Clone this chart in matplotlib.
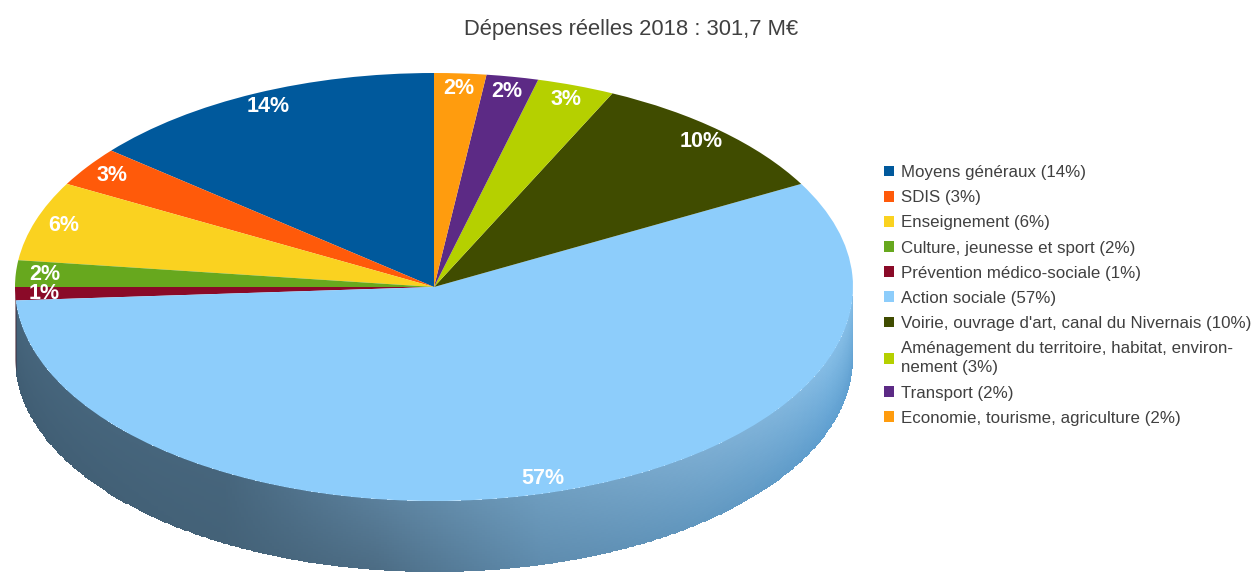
import numpy as np
import matplotlib
matplotlib.use("Agg")
import matplotlib.pyplot as plt
from matplotlib.colors import to_rgb

plt.rcParams['font.family'] = ['Liberation Sans', 'DejaVu Sans']

#budget shares, counter-clockwise from the top
categories = [
    "Moyens généraux (14%)",
    "SDIS (3%)",
    "Enseignement (6%)",
    "Culture, jeunesse et sport (2%)",
    "Prévention médico-sociale (1%)",
    "Action sociale (57%)",
    "Voirie, ouvrage d'art, canal du Nivernais (10%)",
    "Aménagement du territoire, habitat, environ-\nnement (3%)",
    "Transport (2%)",
    "Economie, tourisme, agriculture (2%)",
]
values = [14, 3, 6, 2, 1, 57, 10, 3, 2, 2]
colors = ["#00599c", "#ff5a0a", "#fad220", "#67a81e", "#8a0a28",
          "#8dcdfb", "#404c00", "#b5d000", "#5c2a85", "#ff9c0e"]
title = "Dépenses réelles 2018 : 301,7 M€"

W, H = 1256, 572
cx, cy = 434, 287     #pie centre in pixels
rx, ry = 419, 214     #ellipse radii in pixels
depth = 71 / ry       #height of the side wall in pie units

#side wall shades: angle in degrees, inner (top) edge, outer (bottom) edge
rim_angles = [180, 240, 262, 285, 310, 340, 360]
rim_top = ["#46657c", "#46657c", "#5a7f9b", "#6e9dbf", "#7cadd2", "#85bde6", "#85bde6"]
rim_bottom = ["#3f5c72", "#446278", "#4c6c84", "#5f8cae", "#6298c0", "#5f9fd0", "#5f9fd0"]

fig = plt.figure(figsize=(W / 100, H / 100), dpi=100)
ax = fig.add_axes([0, 0, 1, 1])

wedges, texts, pcts = ax.pie(values, colors=colors, startangle=90, counterclock=True,
                             autopct="%.0f%%", pctdistance=0.93,
                             textprops={"color": "white", "fontsize": 15.5, "fontweight": "bold"},
                             wedgeprops={"linewidth": 0})

#pie() forces a round shape, stretch it back to the tilted ellipse
ax.set_aspect("auto")
ax.set_xlim(-cx / rx, (W - cx) / rx)
ax.set_ylim((cy - H) / ry, cy / ry)
ax.axis("off")

#side wall of the big slice, with shading along the edge and across it
t1 = max(wedges[5].theta1, 180)
t2 = min(wedges[5].theta2, 360)
theta = np.linspace(t1, t2, 500)
frac = np.linspace(0, 1, 31)
top_rgb = np.array([to_rgb(c) for c in rim_top])
bot_rgb = np.array([to_rgb(c) for c in rim_bottom])
tc = 0.5 * (theta[:-1] + theta[1:])
fc = 0.5 * (frac[:-1] + frac[1:])
rgb = np.zeros((len(fc), len(tc), 3))
for k in range(3):
    top = np.interp(tc, rim_angles, top_rgb[:, k])
    bot = np.interp(tc, rim_angles, bot_rgb[:, k])
    rgb[:, :, k] = np.outer(1 - fc, top) + np.outer(fc, bot)
T, F = np.meshgrid(np.radians(theta), frac)
ax.pcolormesh(np.cos(T), np.sin(T) - F * depth, rgb, shading="flat", zorder=0, antialiased=False)

#the thin sliver of wall under the 1% slice
theta_small = np.radians(np.linspace(wedges[4].theta1, wedges[4].theta2, 20))
ax.fill_between(np.cos(theta_small), np.sin(theta_small), np.sin(theta_small) - depth,
                color="#3a1420", linewidth=0, zorder=0)

leg = ax.legend(wedges, categories, loc="upper left", bbox_to_anchor=(884 / W, 1 - 165 / H),
                frameon=False, fontsize=12.2, labelcolor="#404040",
                handlelength=0.6, handleheight=0.6, handletextpad=0.42,
                labelspacing=0.6, borderpad=0, borderaxespad=0)
for t in leg.get_texts():
    t.set_linespacing(1.35)

fig.text(631 / W, 1 - 30 / H, title, ha="center", va="center", fontsize=15.8, color="#404040")

fig.savefig("out.png", dpi=100)
